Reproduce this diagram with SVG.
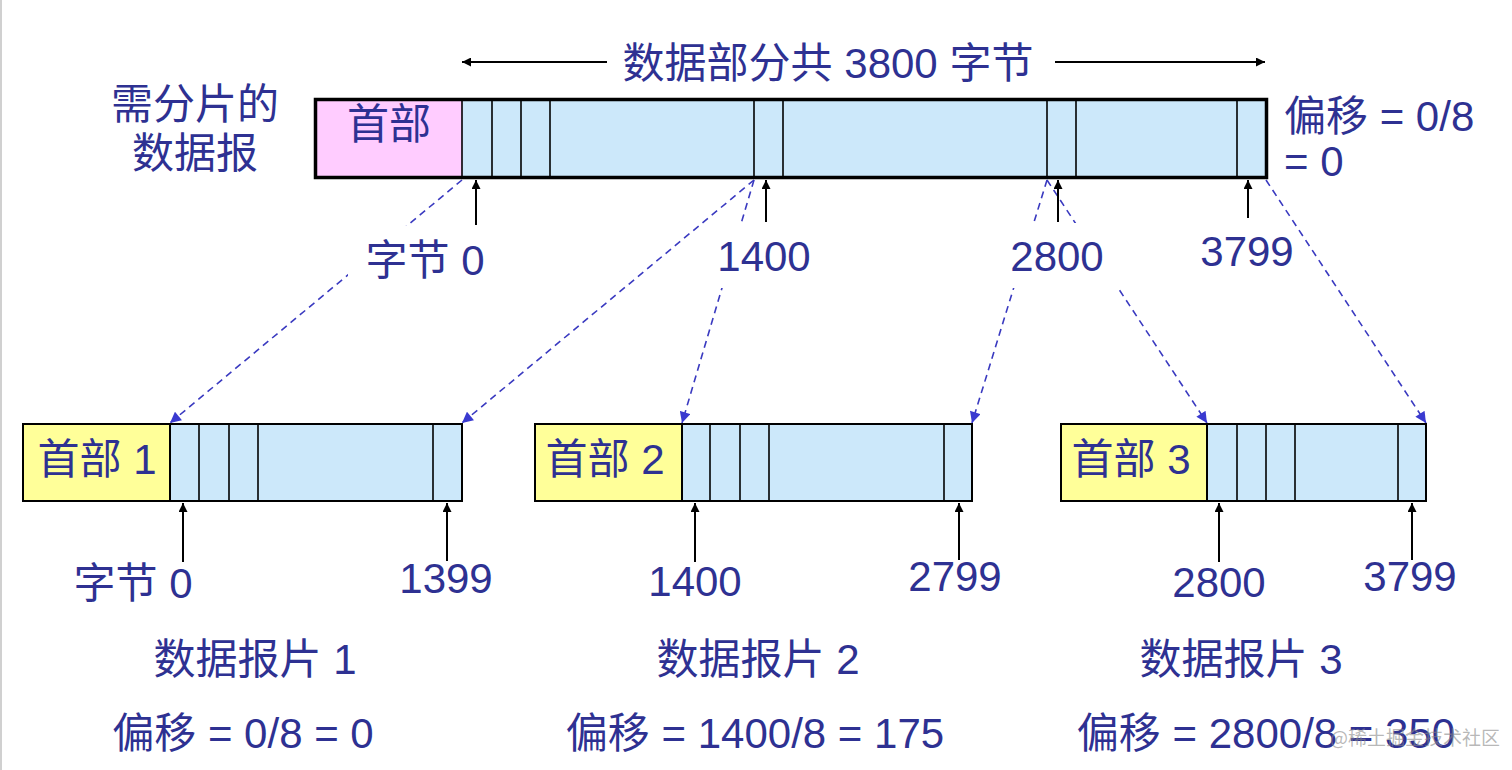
<svg xmlns="http://www.w3.org/2000/svg" width="1512" height="770" viewBox="0 0 1512 770">
<style>
.t{font-family:"Liberation Sans","Noto Sans CJK SC",sans-serif;font-size:42px;fill:#2e3192}
.c{text-anchor:middle}
.hdr{fill:#ffff99;stroke:#000;stroke-width:2}
.dat{fill:#cce8fa;stroke:#000;stroke-width:2}
.div{stroke:#000;stroke-width:1.6}
.ptr{stroke:#000;stroke-width:2;fill:none;marker-end:url(#ab)}
.dash{stroke:#3a3ac0;stroke-width:1.6;stroke-dasharray:7 5;fill:none;marker-end:url(#bb)}
.bg{fill:#fff}
</style>
<defs>
<marker id="ab" viewBox="0 0 10 10" refX="10" refY="5" markerWidth="9" markerHeight="9" markerUnits="userSpaceOnUse" orient="auto"><path d="M0,0 L10,5 L0,10 Z" fill="#000"/></marker>
<marker id="bb" viewBox="0 0 10 10" refX="10" refY="5" markerWidth="12" markerHeight="11" markerUnits="userSpaceOnUse" orient="auto"><path d="M0,0 L10,5 L0,10 Z" fill="#3a3ad0"/></marker>
</defs>
<rect width="1512" height="770" fill="#fff"/>
<line x1="1" y1="0" x2="1" y2="770" stroke="#d0d0d0" stroke-width="2"/>

<g id="connectors">
<line class="dash" x1="462" y1="180" x2="170" y2="423"/>
<line class="dash" x1="754" y1="180" x2="462" y2="423"/>
<line class="dash" x1="754" y1="180" x2="682" y2="423"/>
<line class="dash" x1="1047" y1="180" x2="972" y2="423"/>
<line class="dash" x1="1047" y1="180" x2="1207" y2="423"/>
<line class="dash" x1="1266" y1="180" x2="1426" y2="423"/>
<line class="ptr" x1="476" y1="225" x2="476" y2="180"/>
<line class="ptr" x1="766" y1="222" x2="766" y2="180"/>
<line class="ptr" x1="1058" y1="222" x2="1058" y2="180"/>
<line class="ptr" x1="1248" y1="218" x2="1248" y2="180"/>
<line class="ptr" x1="183" y1="562" x2="183" y2="503"/>
<line class="ptr" x1="447" y1="561" x2="447" y2="503"/>
<line class="ptr" x1="695" y1="562" x2="695" y2="503"/>
<line class="ptr" x1="959" y1="560" x2="959" y2="503"/>
<line class="ptr" x1="1219" y1="562" x2="1219" y2="503"/>
<line class="ptr" x1="1412" y1="560" x2="1412" y2="503"/>
<line x1="607" y1="62" x2="462" y2="62" stroke="#000" stroke-width="2" marker-end="url(#ab)"/>
<line x1="1055" y1="62" x2="1265" y2="62" stroke="#000" stroke-width="2" marker-end="url(#ab)"/>
</g>

<g id="top-labels">
<text class="t c" x="828" y="78">数据部分共 3800 字节</text>
<text class="t c" x="195" y="119">需分片的</text>
<text class="t c" x="195" y="168">数据报</text>
<text class="t" x="1284" y="131">偏移 = 0/8</text>
<text class="t" x="1284" y="176">= 0</text>
<rect class="bg" x="348" y="226" width="144" height="56"/>
<text class="t c" x="425" y="275">字节 0</text>
<rect class="bg" x="710" y="223" width="106" height="65"/>
<text class="t c" x="764" y="271">1400</text>
<rect class="bg" x="1004" y="223" width="115" height="65"/>
<text class="t c" x="1057" y="271">2800</text>
<text class="t c" x="1247" y="266">3799</text>
</g>

<g id="datagram">
<rect x="315.5" y="99.5" width="951" height="78" fill="#cce8fa"/>
<rect x="315.5" y="99.5" width="147" height="78" fill="#ffccff"/>
<g class="div">
<line x1="462" y1="99" x2="462" y2="178"/>
<line x1="492" y1="99" x2="492" y2="178"/>
<line x1="521" y1="99" x2="521" y2="178"/>
<line x1="550" y1="99" x2="550" y2="178"/>
<line x1="754" y1="99" x2="754" y2="178"/>
<line x1="783" y1="99" x2="783" y2="178"/>
<line x1="1047" y1="99" x2="1047" y2="178"/>
<line x1="1076" y1="99" x2="1076" y2="178"/>
<line x1="1237" y1="99" x2="1237" y2="178"/>
</g>
<rect x="315.5" y="99.5" width="951" height="78" fill="none" stroke="#000" stroke-width="3.5"/>
<text class="t c" x="389" y="139">首部</text>
</g>

<g id="fragment1">
<rect class="dat" x="23" y="424" width="439" height="77"/>
<rect class="hdr" x="23" y="424" width="147" height="77"/>
<g class="div">
<line x1="199" y1="424" x2="199" y2="501"/>
<line x1="229" y1="424" x2="229" y2="501"/>
<line x1="258" y1="424" x2="258" y2="501"/>
<line x1="433" y1="424" x2="433" y2="501"/>
</g>
<text class="t c" x="97" y="474">首部 1</text>
<text class="t c" x="133" y="598">字节 0</text>
<text class="t c" x="446" y="593">1399</text>
<text class="t c" x="255" y="674">数据报片 1</text>
<text class="t c" x="243" y="748">偏移 = 0/8 = 0</text>
</g>

<g id="fragment2">
<rect class="dat" x="535" y="424" width="437" height="77"/>
<rect class="hdr" x="535" y="424" width="147" height="77"/>
<g class="div">
<line x1="710" y1="424" x2="710" y2="501"/>
<line x1="740" y1="424" x2="740" y2="501"/>
<line x1="769" y1="424" x2="769" y2="501"/>
<line x1="944" y1="424" x2="944" y2="501"/>
</g>
<text class="t c" x="605" y="474">首部 2</text>
<text class="t c" x="695" y="596">1400</text>
<text class="t c" x="955" y="591">2799</text>
<text class="t c" x="758" y="674">数据报片 2</text>
<text class="t c" x="755" y="748">偏移 = 1400/8 = 175</text>
</g>

<g id="fragment3">
<rect class="dat" x="1061" y="424" width="365" height="77"/>
<rect class="hdr" x="1061" y="424" width="146" height="77"/>
<g class="div">
<line x1="1237" y1="424" x2="1237" y2="501"/>
<line x1="1266" y1="424" x2="1266" y2="501"/>
<line x1="1295" y1="424" x2="1295" y2="501"/>
<line x1="1398" y1="424" x2="1398" y2="501"/>
</g>
<text class="t c" x="1131" y="474">首部 3</text>
<text class="t c" x="1219" y="597">2800</text>
<text class="t c" x="1410" y="591">3799</text>
<text class="t c" x="1241" y="674">数据报片 3</text>
<text class="t c" x="1266" y="748">偏移 = 2800/8 = 350</text>
</g>

<text x="1330" y="745" font-family="'Noto Sans CJK SC',sans-serif" font-size="19" fill="#888" fill-opacity="0.6">@稀土掘金技术社区</text>
</svg>
